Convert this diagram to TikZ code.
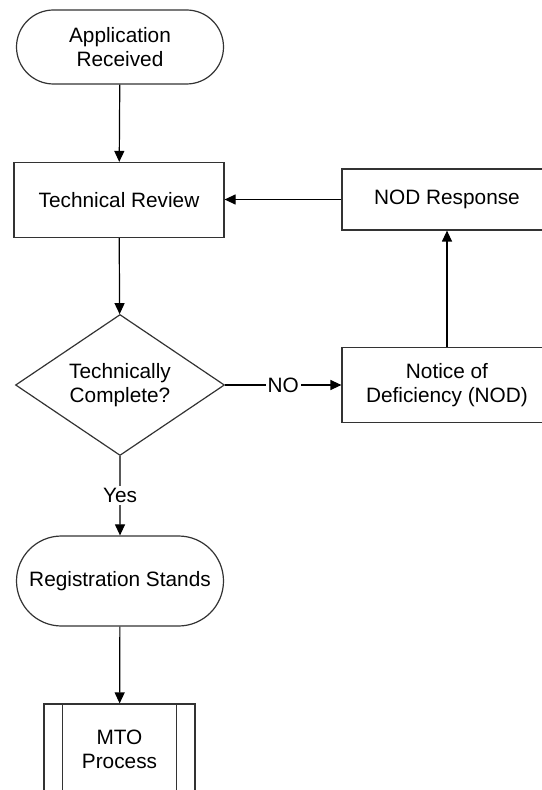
\documentclass[tikz,border=0pt]{standalone}
\usepackage{fontspec}
\setmainfont{Liberation Sans}
\usepackage{tikz}
\usetikzlibrary{shapes.geometric, shapes.misc, arrows.meta, positioning}
\tikzstyle{terminal} = [rounded rectangle, draw=black!80, line width=0.6pt,
                        minimum width=107.5pt, inner xsep=2pt, align=center]
\tikzstyle{process}  = [rectangle, draw=black!80, line width=0.6pt,
                        minimum width=105pt, align=center]
\tikzstyle{decision} = [diamond, draw=black!80, line width=0.6pt, aspect=1.5,
                        minimum width=104.5pt, minimum height=70.5pt, inner sep=0pt,
                        align=center]
\tikzstyle{arrow}    = [line width=0.6pt, -{Triangle[length=5.5pt,width=5pt]}]
\tikzstyle{lbl}      = [fill=white, inner sep=1pt]

\begin{document}
\begin{tikzpicture}[x=0.5pt, y=-0.5pt, font=\fontsize{10.4}{12}\selectfont]
  \useasboundingbox (0,0) rectangle (541,790);

  % --- main column ---
  \node[terminal, minimum height=37pt] (start) at (120,47) {Application\\Received};
  \node[process, minimum height=37.5pt] (review) at (119,200) {Technical Review};
  \node[decision] (check) at (120,385) {Technically\\Complete?};
  \node[terminal, minimum height=45pt] (reg) at (120,581) {Registration Stands};
  \node[process, minimum width=75.5pt, minimum height=45pt]
        (mto) at (119.5,749) {MTO\\Process};
  \draw[draw=black!80, line width=0.6pt]
        ([xshift=9.5pt]mto.north west) -- ([xshift=9.5pt]mto.south west)
        ([xshift=-9.5pt]mto.north east) -- ([xshift=-9.5pt]mto.south east);

  % --- deficiency loop ---
  \node[process, minimum height=37.5pt] (nod) at (447,385) {Notice of\\Deficiency (NOD)};
  \node[process, minimum height=30.5pt] (resp) at (447,199.5) {NOD Response};

  % Connections
  \draw[arrow] (start) -- (review);
  \draw[arrow] (review) -- (check);
  \draw[arrow] (check) -- node[lbl]{Yes} (reg);
  \draw[arrow] (reg) -- (mto);
  \draw[arrow] (check) -- node[lbl]{NO} (nod);
  \draw[arrow] (nod) -- (resp);
  \draw[arrow] (resp.west) -- (review.east |- resp.west);
\end{tikzpicture}
\end{document}
